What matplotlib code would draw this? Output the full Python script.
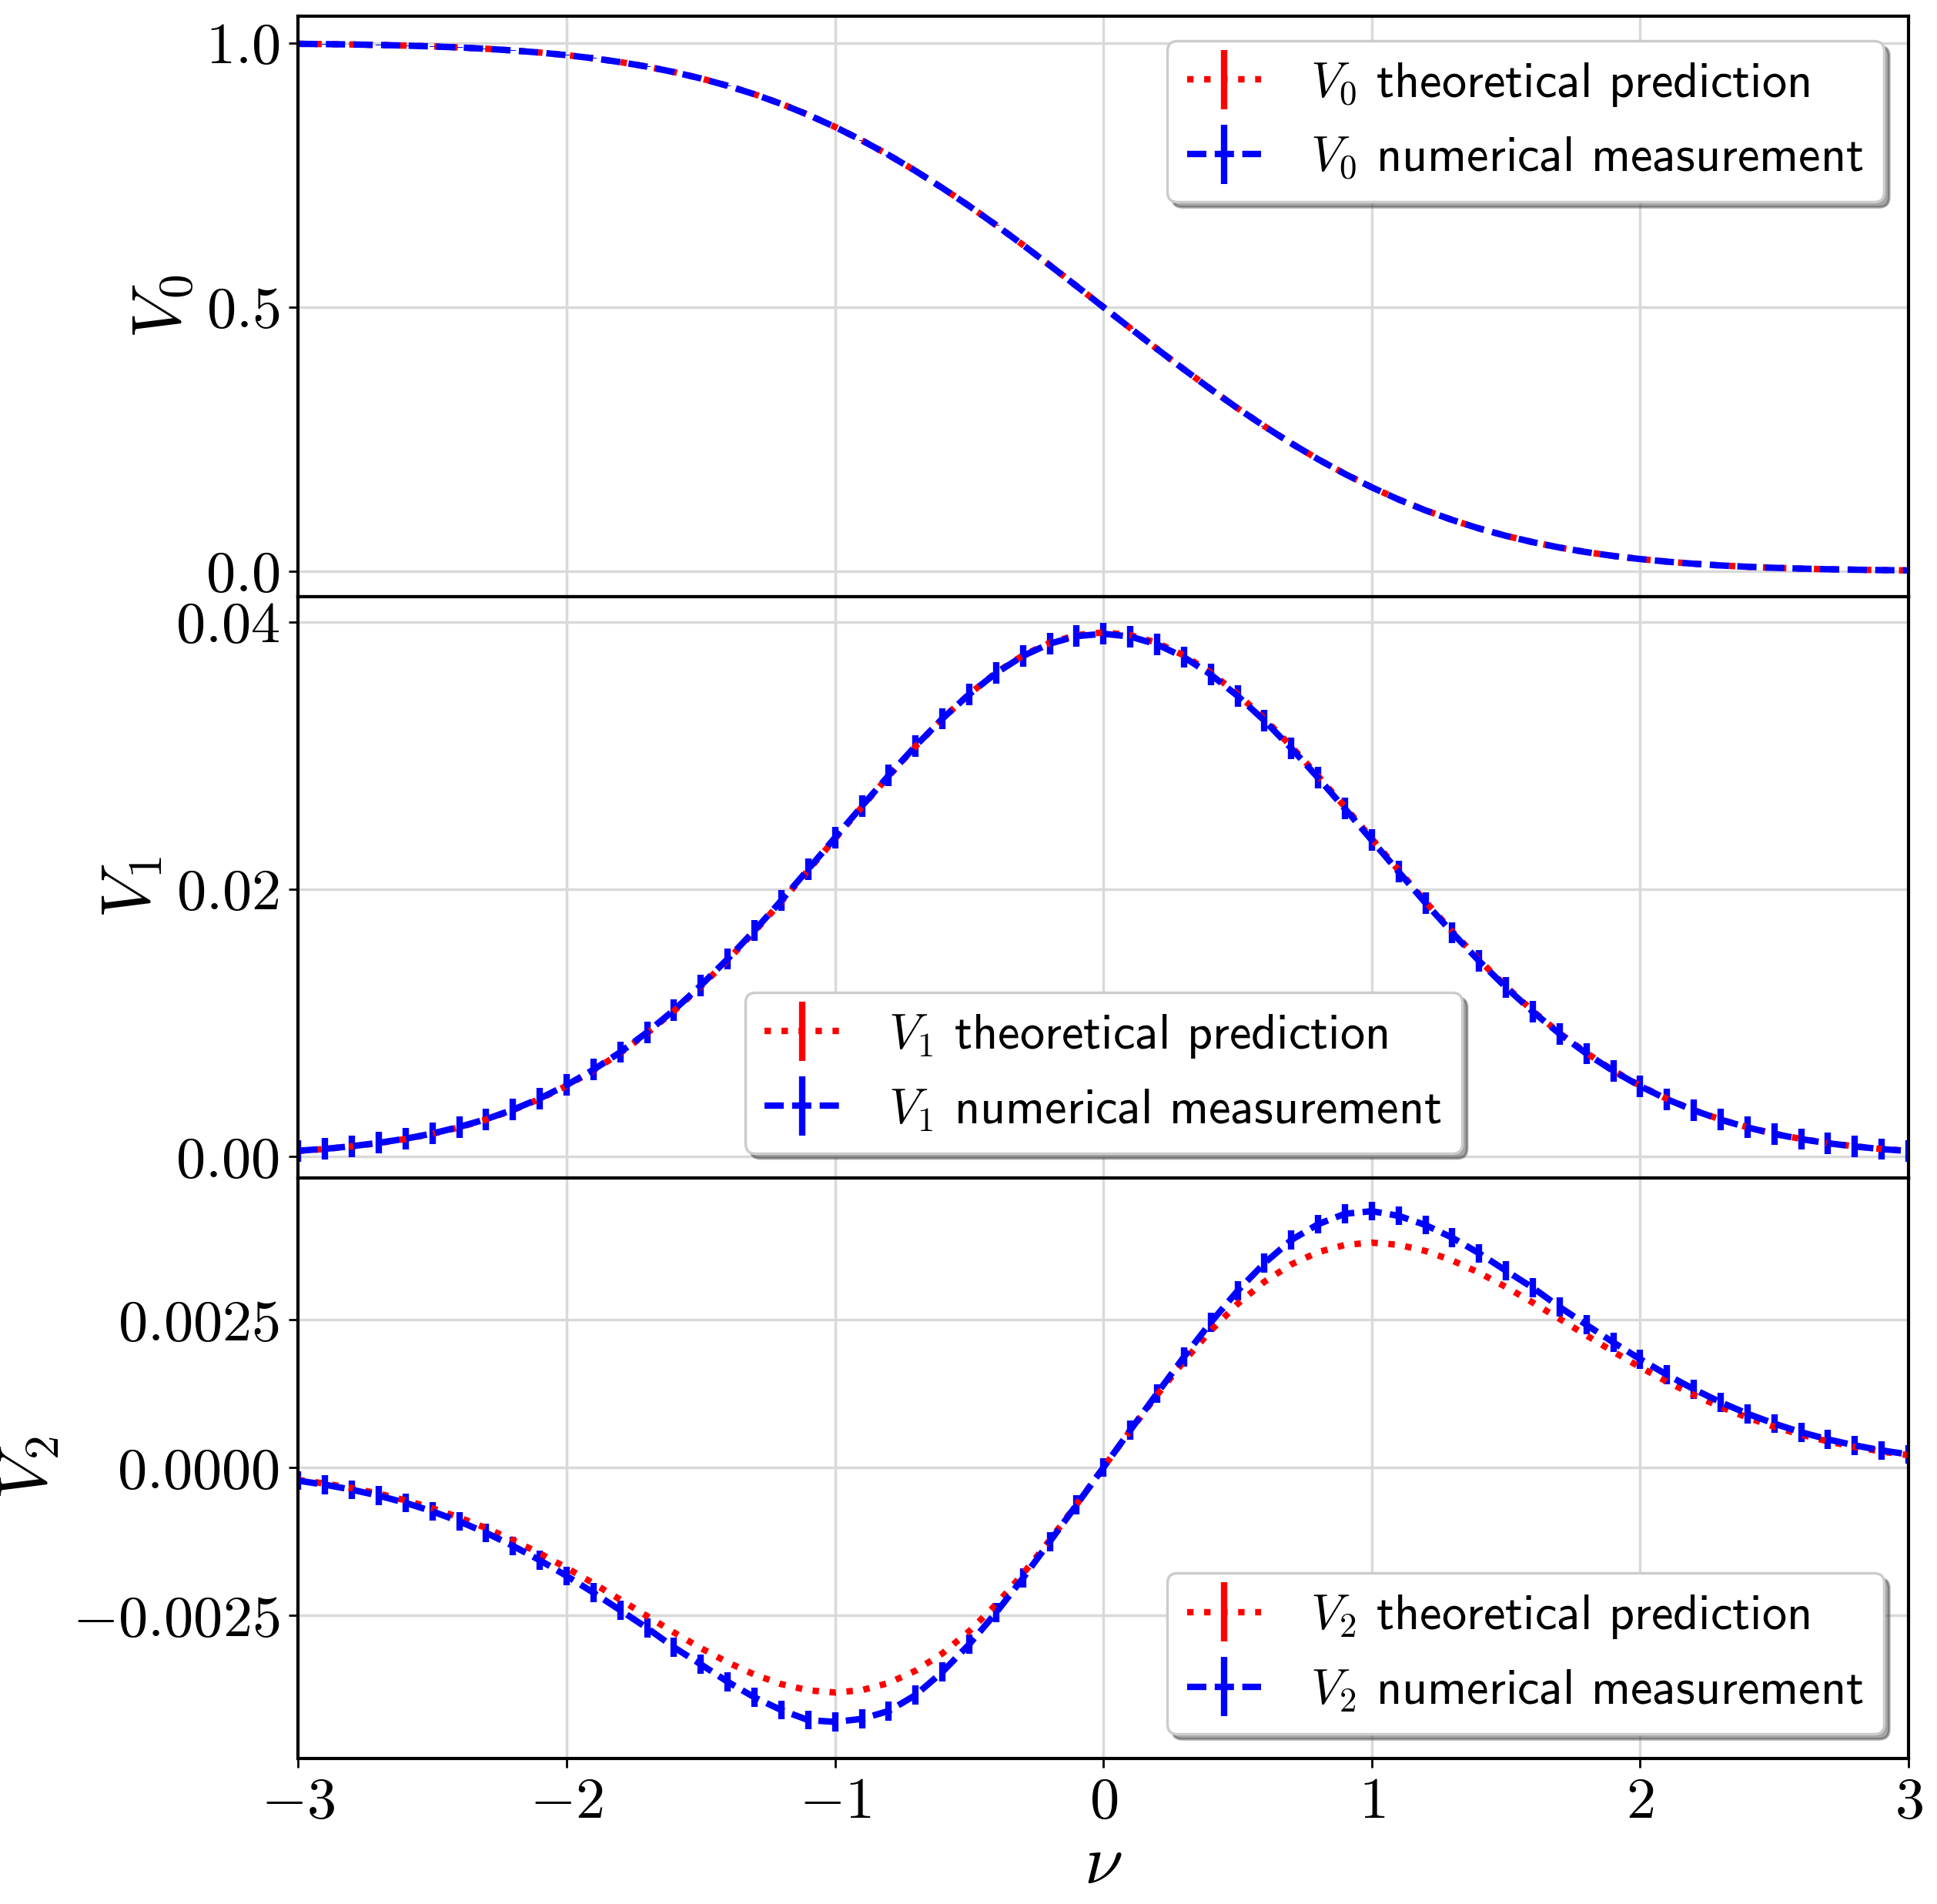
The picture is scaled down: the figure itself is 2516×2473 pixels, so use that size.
import matplotlib
matplotlib.use("Agg")
import matplotlib.pyplot as plt
from matplotlib.container import ErrorbarContainer
from matplotlib.legend_handler import HandlerErrorbar

# Valeurs (pas de 0.1 en nu)
nu = [-3.0, -2.9, -2.8, -2.7, -2.6, -2.5, -2.4, -2.3, -2.2, -2.1,
      -2.0, -1.9, -1.8, -1.7, -1.6, -1.5, -1.4, -1.3, -1.2, -1.1,
      -1.0, -0.9, -0.8, -0.7, -0.6, -0.5, -0.4, -0.3, -0.2, -0.1,
      0.0, 0.1, 0.2, 0.3, 0.4, 0.5, 0.6, 0.7, 0.8, 0.9,
      1.0, 1.1, 1.2, 1.3, 1.4, 1.5, 1.6, 1.7, 1.8, 1.9,
      2.0, 2.1, 2.2, 2.3, 2.4, 2.5, 2.6, 2.7, 2.8, 2.9, 3.0]

v0_theory = [0.9987, 0.9981, 0.9974, 0.9965, 0.9953, 0.9938, 0.9918, 0.9893, 0.9861, 0.9821,
             0.9772, 0.9713, 0.9641, 0.9554, 0.9452, 0.9332, 0.9192, 0.9032, 0.8849, 0.8643,
             0.8413, 0.8159, 0.7881, 0.7580, 0.7257, 0.6915, 0.6554, 0.6179, 0.5793, 0.5398,
             0.5000, 0.4602, 0.4207, 0.3821, 0.3446, 0.3085, 0.2743, 0.2420, 0.2119, 0.1841,
             0.1587, 0.1357, 0.1151, 0.0968, 0.0808, 0.0668, 0.0548, 0.0446, 0.0359, 0.0287,
             0.0228, 0.0179, 0.0139, 0.0107, 0.0082, 0.0062, 0.0047, 0.0035, 0.0026, 0.0019, 0.0013]
v0_measured = [0.9986, 0.9981, 0.9974, 0.9965, 0.9953, 0.9937, 0.9918, 0.9892, 0.9860, 0.9821,
               0.9772, 0.9712, 0.9640, 0.9554, 0.9451, 0.9331, 0.9191, 0.9031, 0.8848, 0.8642,
               0.8412, 0.8158, 0.7880, 0.7579, 0.7256, 0.6914, 0.6553, 0.6178, 0.5792, 0.5397,
               0.4999, 0.4601, 0.4206, 0.3820, 0.3445, 0.3084, 0.2742, 0.2419, 0.2118, 0.1840,
               0.1586, 0.1356, 0.1150, 0.0968, 0.0807, 0.0668, 0.0548, 0.0446, 0.0359, 0.0287,
               0.0228, 0.0179, 0.0139, 0.0107, 0.0082, 0.0062, 0.0047, 0.0035, 0.0026, 0.0019, 0.0013]
v0_err = 0.0005

v1_theory = [0.00044, 0.00058, 0.00078, 0.00102, 0.00133, 0.00172, 0.00220, 0.00278, 0.00349, 0.00432,
             0.00531, 0.00645, 0.00776, 0.00924, 0.01090, 0.01273, 0.01471, 0.01684, 0.01908, 0.02141,
             0.02378, 0.02615, 0.02846, 0.03068, 0.03274, 0.03459, 0.03619, 0.03748, 0.03842, 0.03900,
             0.03920, 0.03900, 0.03842, 0.03748, 0.03619, 0.03459, 0.03274, 0.03068, 0.02846, 0.02615,
             0.02378, 0.02141, 0.01908, 0.01684, 0.01471, 0.01273, 0.01090, 0.00924, 0.00776, 0.00645,
             0.00531, 0.00432, 0.00349, 0.00278, 0.00220, 0.00172, 0.00133, 0.00102, 0.00078, 0.00058, 0.00044]
v1_measured = [0.00045, 0.00059, 0.00079, 0.00104, 0.00135, 0.00174, 0.00223, 0.00281, 0.00352, 0.00436,
               0.00536, 0.00651, 0.00782, 0.00931, 0.01097, 0.01281, 0.01479, 0.01692, 0.01916, 0.02149,
               0.02386, 0.02621, 0.02851, 0.03071, 0.03275, 0.03458, 0.03616, 0.03744, 0.03836, 0.03892,
               0.03910, 0.03889, 0.03830, 0.03735, 0.03605, 0.03445, 0.03260, 0.03054, 0.02833, 0.02602,
               0.02366, 0.02130, 0.01898, 0.01675, 0.01463, 0.01266, 0.01084, 0.00919, 0.00771, 0.00641,
               0.00528, 0.00430, 0.00347, 0.00277, 0.00219, 0.00171, 0.00132, 0.00101, 0.00077, 0.00057, 0.00043]
v1_err = 0.0008

v2_theory = [-0.000209, -0.000271, -0.000348, -0.000442, -0.000555, -0.000689, -0.000845, -0.001024, -0.001227, -0.001452,
             -0.001697, -0.001959, -0.002234, -0.002513, -0.002789, -0.003053, -0.003294, -0.003501, -0.003662, -0.003766,
             -0.003803, -0.003764, -0.003642, -0.003435, -0.003142, -0.002767, -0.002315, -0.001798, -0.001229, -0.000624,
             0.0, 0.000624, 0.001229, 0.001798, 0.002315, 0.002767, 0.003142, 0.003435, 0.003642, 0.003764,
             0.003803, 0.003766, 0.003662, 0.003501, 0.003294, 0.003053, 0.002789, 0.002513, 0.002234, 0.001959,
             0.001697, 0.001452, 0.001227, 0.001024, 0.000845, 0.000689, 0.000555, 0.000442, 0.000348, 0.000271, 0.000209]
v2_measured = [-0.000222, -0.000290, -0.000375, -0.000476, -0.000597, -0.000742, -0.000910, -0.001104, -0.001325, -0.001568,
               -0.001833, -0.002116, -0.002413, -0.002714, -0.003040, -0.003328, -0.003623, -0.003886, -0.004101, -0.004270,
               -0.004300, -0.004250, -0.004115, -0.003847, -0.003456, -0.002988, -0.002454, -0.001870, -0.001254, -0.000630,
               0.0, 0.000630, 0.001254, 0.001870, 0.002454, 0.002988, 0.003456, 0.003847, 0.004115, 0.004291,
               0.004335, 0.004256, 0.004101, 0.003886, 0.003623, 0.003328, 0.003040, 0.002714, 0.002413, 0.002116,
               0.001833, 0.001568, 0.001325, 0.001104, 0.000910, 0.000742, 0.000597, 0.000476, 0.000375, 0.000290, 0.000222]
v2_err = 0.00016

x_ticks = [-3, -2, -1, 0, 1, 2, 3]
v0_ticks = [0.0, 0.5, 1.0]
v1_ticks = [0.00, 0.02, 0.04]
v2_ticks = [-0.0025, 0.0, 0.0025]

plt.rcParams['mathtext.fontset'] = 'cm'
plt.rcParams['font.family'] = 'cmss10'
plt.rcParams['axes.linewidth'] = 1.2

fig, axes = plt.subplots(3, 1, sharex=True, figsize=(10.064, 9.892), dpi=250)
fig.subplots_adjust(left=0.154, right=0.9853, top=0.9915, bottom=0.0764, hspace=0)

panels = [
    (v0_theory, v0_measured, v0_err, v0_ticks, '{:.1f}', (-0.049, 1.051), 'upper right', '0'),
    (v1_theory, v1_measured, v1_err, v1_ticks, '{:.2f}', (-0.00157, 0.04185), 'lower center', '1'),
    (v2_theory, v2_measured, v2_err, v2_ticks, '{:.4f}', (-0.00492, 0.0049), 'lower right', '2'),
]

for ax, (th, me, err, ticks, fmt, ylim, loc, k) in zip(axes, panels):
    # Courbe théorique (rouge, pointillés) puis mesure numérique (bleu, tirets)
    ax.errorbar(nu, th, yerr=[0] * len(nu), color='red', ls=':', lw=2.4, elinewidth=2.4,
                label=rf'$V_{k}$ theoretical prediction')
    ax.errorbar(nu, me, yerr=err, color='blue', ls=(0, (3.0, 1.3)), lw=2.4, elinewidth=2.4,
                label=rf'$V_{k}$ numerical measurement')
    ax.set_ylim(*ylim)
    ax.set_yticks(ticks, labels=['$' + fmt.format(t) + '$' for t in ticks])
    ax.set_ylabel(rf'$V_{k}$', fontsize=26)
    ax.grid(True, color='#d9d9d9', lw=1.0)
    ax.tick_params(labelsize=22)
    ax.legend(loc=loc, fontsize=18.5, shadow=True, fancybox=True, framealpha=1,
              handlelength=1.5, handletextpad=1.0, labelspacing=0.55,
              handler_map={ErrorbarContainer: HandlerErrorbar(yerr_size=0.6)})

axes[-1].set_xlim(-3, 3)
axes[-1].set_xticks(x_ticks, labels=['$' + str(t) + '$' for t in x_ticks])
axes[-1].set_xlabel(r'$\nu$', fontsize=26, labelpad=2)

fig.savefig('out.png', dpi=250)
